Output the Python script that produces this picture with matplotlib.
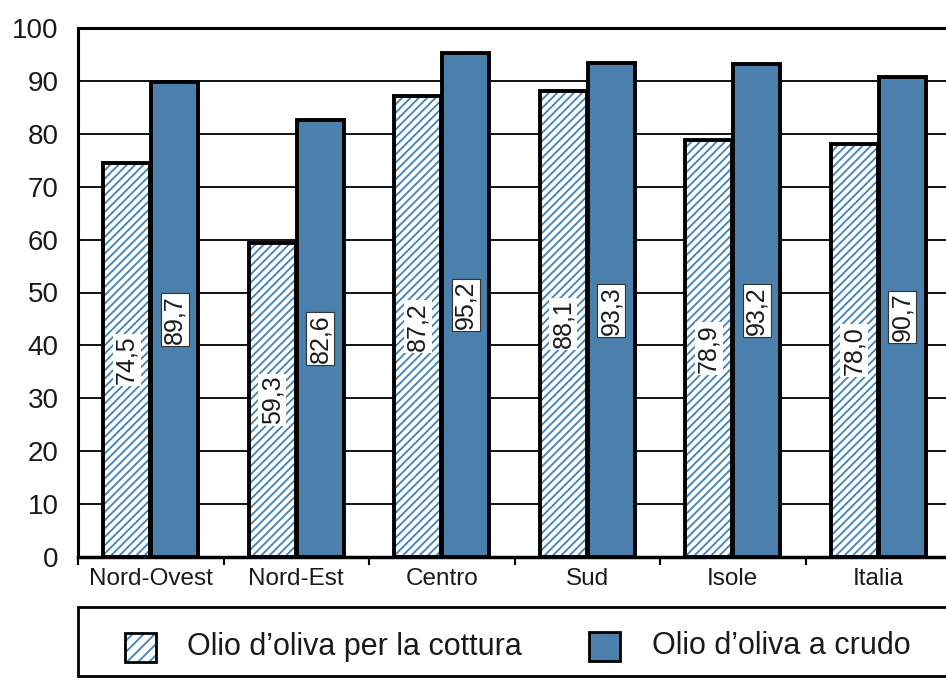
import numpy as np
import matplotlib.pyplot as plt
from matplotlib.patches import Rectangle

# data
regioni = ['Nord-Ovest', 'Nord-Est', 'Centro', 'Sud', 'Isole', 'Italia']
cottura = [74.5, 59.3, 87.2, 88.1, 78.9, 78.0]
crudo = [89.7, 82.6, 95.2, 93.3, 93.2, 90.7]
yticks = [0, 10, 20, 30, 40, 50, 60, 70, 80, 90, 100]

blu = '#4a80ab'
blu_hatch = '#3f82b8'

plt.rcParams['font.family'] = ['Liberation Sans', 'DejaVu Sans']
plt.rcParams['hatch.linewidth'] = 1.3

W, H = 946, 679
fig = plt.figure(figsize=(W / 100, H / 100), dpi=100)
ax = fig.add_axes([78 / W, 1 - 557 / H, (951 - 78) / W, (557 - 28) / H])

x = np.arange(len(regioni))
w = 0.32
xh = x - w / 2 - 0.005
xs = x + w / 2 + 0.005

# hatched bars: hatch layer, then black outline
ax.bar(xh, cottura, w, color='white', edgecolor=blu_hatch, hatch='////', linewidth=0, zorder=2)
ax.bar(xh, cottura, w, fill=False, edgecolor='black', linewidth=2.8, zorder=3)
# solid bars
ax.bar(xs, crudo, w, color=blu, edgecolor='black', linewidth=2.8, zorder=3)

def fmt(v):
    return f'{v:.1f}'.replace('.', ',')

for xi, v in zip(xh, cottura):
    ax.text(xi, v / 2, fmt(v), rotation=90, ha='center', va='center', fontsize=18,
            color='#1a1a1a', zorder=4, bbox=dict(facecolor='white', edgecolor='none', pad=1.5))
for xi, v in zip(xs, crudo):
    ax.text(xi, v / 2, fmt(v), rotation=90, ha='center', va='center', fontsize=18,
            color='#1a1a1a', zorder=4,
            bbox=dict(facecolor='white', edgecolor='#333333', linewidth=0.8, pad=1.5))

ax.set_xlim(-0.5, len(regioni) - 0.5)
ax.set_ylim(0, 100)
ax.set_yticks(yticks)
ax.set_yticklabels([str(t) for t in yticks], fontsize=20, color='#1a1a1a')
ax.tick_params(axis='y', length=0, pad=14)
ax.set_xticks(x)
ax.set_xticklabels(regioni, fontsize=17.5, color='#1a1a1a')
ax.set_xticks(np.arange(len(regioni) + 1) - 0.5, minor=True)
ax.tick_params(axis='x', which='major', length=0, pad=8)
ax.tick_params(axis='x', which='minor', length=6, width=1.5, direction='out')

ax.yaxis.grid(True, color='#111111', linewidth=1.4)
ax.set_axisbelow(True)
ax.spines['right'].set_visible(False)
ax.spines['top'].set_linewidth(2.2)
ax.spines['left'].set_linewidth(2.2)
ax.spines['bottom'].set_linewidth(2.5)

# legend box at the bottom
def px(xp, yp):
    return xp / W, 1 - yp / H

fig.patches.append(Rectangle(px(78, 676), (960 - 78) / W, (676 - 607) / H,
                             transform=fig.transFigure, facecolor='white',
                             edgecolor='black', linewidth=2))
fig.patches.append(Rectangle(px(125, 662), 31 / W, 29 / H, transform=fig.transFigure,
                             facecolor='white', edgecolor=blu_hatch, hatch='///', linewidth=0))
fig.patches.append(Rectangle(px(125, 662), 31 / W, 29 / H, transform=fig.transFigure,
                             fill=False, edgecolor='black', linewidth=2))
fig.patches.append(Rectangle(px(589, 661), 31 / W, 29 / H, transform=fig.transFigure,
                             facecolor=blu, edgecolor='black', linewidth=2))
fig.text(*px(187, 647), 'Olio d\u2019oliva per la cottura', fontsize=22, va='center', color='#1a1a1a')
fig.text(*px(652, 646), 'Olio d\u2019oliva a crudo', fontsize=22, va='center', color='#1a1a1a')

fig.savefig('out.png', dpi=100)
